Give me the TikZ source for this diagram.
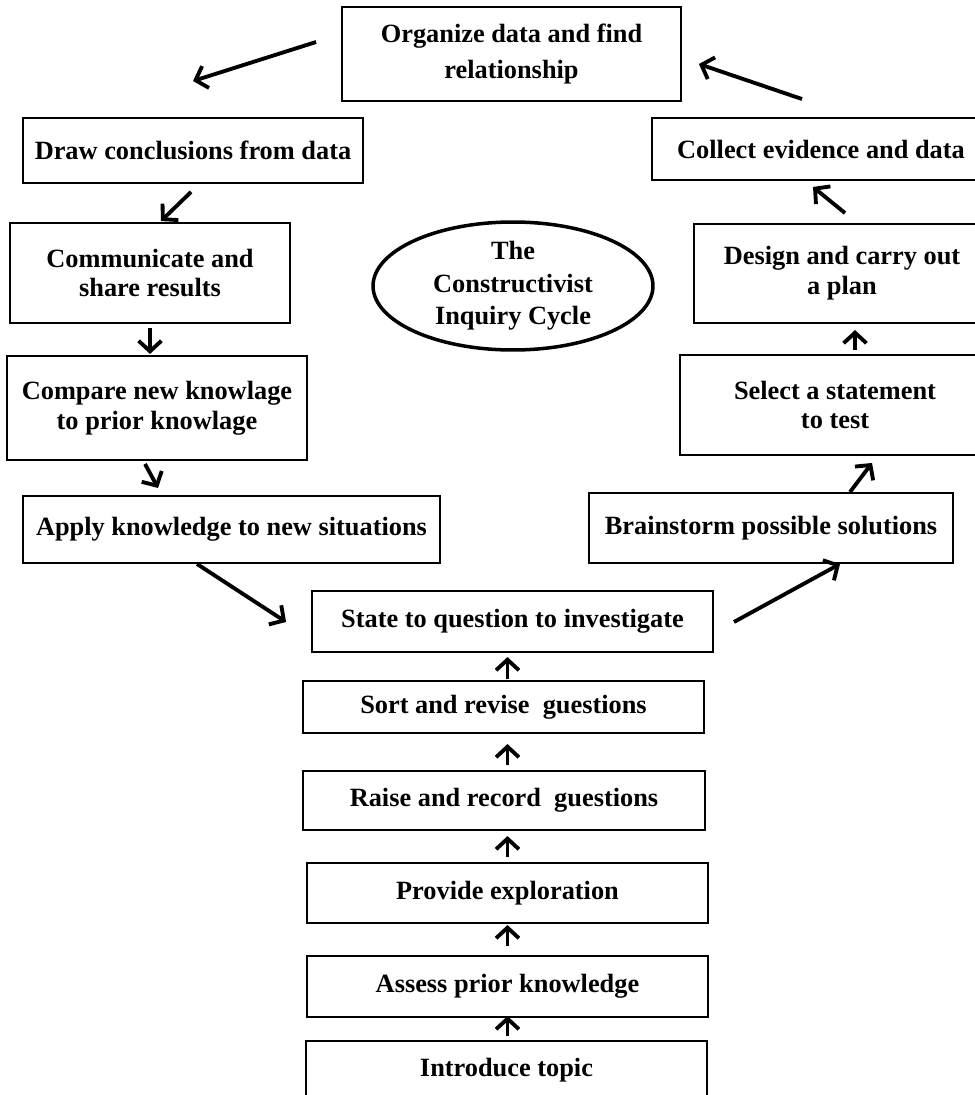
\documentclass[tikz,border=0pt]{standalone}
\usepackage{fontspec}
\setmainfont{Liberation Serif}
\usepackage{tikz}
\usetikzlibrary{positioning, calc, shapes.geometric, arrows.meta}

\begin{document}
\begin{tikzpicture}[x=0.02cm,y=-0.02cm,
        box/.style={rectangle,draw=black,line width=1.1pt,align=center,inner sep=2pt,
                    font=\fontsize{15}{17}\selectfont\bfseries},
        cycle/.style={ellipse,draw=black,line width=2pt,align=center,inner sep=0pt,
                    font=\fontsize{15}{18.5}\selectfont\bfseries},
        flow/.style={-{Straight Barb[length=6pt,width=13pt]},line width=2.2pt}]

        \useasboundingbox (0,0) rectangle (974,1095);

        \node[box,minimum width=6.78cm,minimum height=1.88cm] (org)     at (511.5,54)  {Organize data and find\\[3pt]relationship};
        \node[box,minimum width=6.8cm, minimum height=1.3cm]  (draw)    at (193,150.5) {Draw conclusions from data};
        \node[box,minimum width=6.76cm,minimum height=1.24cm] (collect) at (821,149)   {Collect evidence and data};
        \node[box,minimum width=5.6cm, minimum height=2cm]    (comm)    at (150,273)   {Communicate and\\share results};
        \node[box,minimum width=5.92cm,minimum height=1.98cm] (design)  at (842,273.5) {Design and carry out\\a plan};
        \node[box,minimum width=6cm,   minimum height=2.08cm] (compare) at (157,408)   {Compare new knowlage\\to prior knowlage};
        \node[box,minimum width=6.2cm, minimum height=2cm]    (select)  at (835,405)   {Select a statement\\to test};
        \node[box,minimum width=8.34cm,minimum height=1.34cm] (apply)   at (231.5,529.5) {Apply knowledge to new situations};
        \node[box,minimum width=7.28cm,minimum height=1.4cm]  (brain)   at (771,528)   {Brainstorm possible solutions};
        \node[box,minimum width=8.02cm,minimum height=1.22cm] (state)   at (512.5,621.5) {State to question to investigate};
        \node[box,minimum width=8.02cm,minimum height=1.04cm] (sort)    at (503.5,707) {Sort and revise\ \ guestions};
        \node[box,minimum width=8.04cm,minimum height=1.18cm] (raise)   at (504,800.5) {Raise and record\ \ guestions};
        \node[box,minimum width=8.02cm,minimum height=1.2cm]  (provide) at (507.5,893) {Provide exploration};
        \node[box,minimum width=8.02cm,minimum height=1.22cm] (assess)  at (507.5,986.5) {Assess prior knowledge};
        \node[box,minimum width=8.02cm,minimum height=1.18cm] (intro)   at (506.5,1070.5) {Introduce topic};

        \node[cycle,minimum width=5.6cm,minimum height=2.56cm] (inquiry) at (513,286) {The\\Constructivist\\Inquiry Cycle};

        \path[flow]
              ($(org.west)+(-25,-12)$)    edge ($(draw.north)+(0,-36)$)
              ($(draw.south)+(-2,8)$)     edge ($(comm.north)+(11,-1)$)
              ($(comm.south)+(0,4)$)      edge ($(comm.south)+(0,30)$)
              ($(compare.south)+(-12,3)$) edge ($(compare.south)+(1,27)$)
              ($(apply.south)+(-34.5,0)$) edge ($(state.west)+(-25,0.5)$)
              ($(state.east)+(20,0.5)$)   edge ($(brain.south)+(69,0)$)
              ($(brain.north)+(79,0)$)    edge ($(select.south)+(37,7)$)
              ($(select.north)+(20,-4)$)  edge ($(select.north)+(20,-24)$)
              ($(design.north)+(3,-10)$)  edge ($(collect.south)+(-8,6)$)
              ($(collect.north)+(-19,-18)$) edge ($(org.east)+(17,10)$)

              ($(sort.north)+(4,-1)$)     edge ($(sort.north)+(4,-23)$)
              ($(raise.north)+(3.5,-5)$)  edge ($(raise.north)+(3.5,-26)$)
              ($(provide.north)+(0,-5)$)  edge ($(provide.north)+(0,-26)$)
              ($(assess.north)+(0,-9)$)   edge ($(assess.north)+(0,-30)$)
              ($(intro.north)+(1,-4)$)    edge ($(intro.north)+(1,-24)$);
\end{tikzpicture}
\end{document}
